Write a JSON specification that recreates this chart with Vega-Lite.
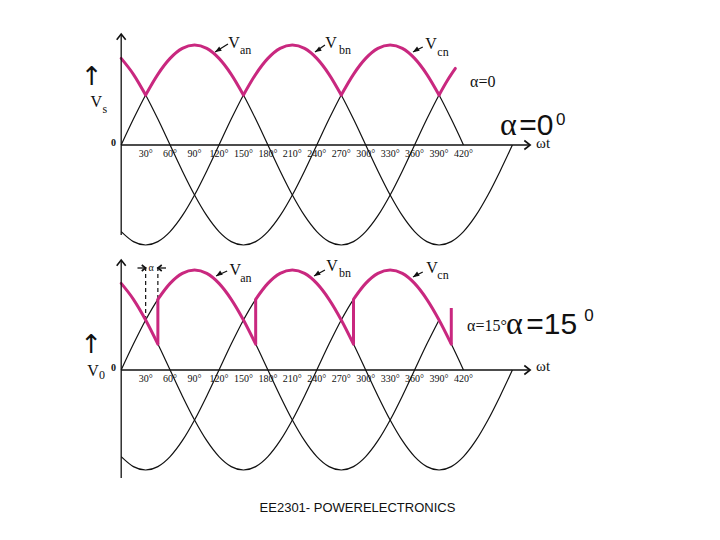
{
  "$schema": "https://vega.github.io/schema/vega-lite/v6.json",
  "background": "white",
  "padding": 0,
  "spacing": 0,
  "config": {"view": {"stroke": null}, "concat": {"spacing": 0}},
  "datasets": {
    "black": [
      {"phase":"a","deg":0,"v":0},{"phase":"a","deg":15,"v":0.259},{"phase":"a","deg":30,"v":0.5},{"phase":"a","deg":45,"v":0.707},{"phase":"a","deg":60,"v":0.866},{"phase":"a","deg":75,"v":0.966},{"phase":"a","deg":90,"v":1},{"phase":"a","deg":105,"v":0.966},{"phase":"a","deg":120,"v":0.866},{"phase":"a","deg":135,"v":0.707},{"phase":"a","deg":150,"v":0.5},{"phase":"a","deg":165,"v":0.259},{"phase":"a","deg":180,"v":0},{"phase":"a","deg":195,"v":-0.259},{"phase":"a","deg":210,"v":-0.5},{"phase":"a","deg":225,"v":-0.707},{"phase":"a","deg":240,"v":-0.866},{"phase":"a","deg":255,"v":-0.966},{"phase":"a","deg":270,"v":-1},{"phase":"a","deg":285,"v":-0.966},{"phase":"a","deg":300,"v":-0.866},{"phase":"a","deg":315,"v":-0.707},{"phase":"a","deg":330,"v":-0.5},{"phase":"a","deg":345,"v":-0.259},{"phase":"a","deg":360,"v":0},{"phase":"a","deg":375,"v":0.259},{"phase":"a","deg":390,"v":0.5},{"phase":"a","deg":405,"v":0.707},
      {"phase":"b","deg":0,"v":-0.866},{"phase":"b","deg":15,"v":-0.966},{"phase":"b","deg":30,"v":-1},{"phase":"b","deg":45,"v":-0.966},{"phase":"b","deg":60,"v":-0.866},{"phase":"b","deg":75,"v":-0.707},{"phase":"b","deg":90,"v":-0.5},{"phase":"b","deg":105,"v":-0.259},{"phase":"b","deg":120,"v":0},{"phase":"b","deg":135,"v":0.259},{"phase":"b","deg":150,"v":0.5},{"phase":"b","deg":165,"v":0.707},{"phase":"b","deg":180,"v":0.866},{"phase":"b","deg":195,"v":0.966},{"phase":"b","deg":210,"v":1},{"phase":"b","deg":225,"v":0.966},{"phase":"b","deg":240,"v":0.866},{"phase":"b","deg":255,"v":0.707},{"phase":"b","deg":270,"v":0.5},{"phase":"b","deg":285,"v":0.259},{"phase":"b","deg":300,"v":0},{"phase":"b","deg":315,"v":-0.259},{"phase":"b","deg":330,"v":-0.5},{"phase":"b","deg":345,"v":-0.707},{"phase":"b","deg":360,"v":-0.866},{"phase":"b","deg":375,"v":-0.966},{"phase":"b","deg":390,"v":-1},{"phase":"b","deg":405,"v":-0.966},{"phase":"b","deg":420,"v":-0.866},{"phase":"b","deg":435,"v":-0.707},{"phase":"b","deg":450,"v":-0.5},{"phase":"b","deg":465,"v":-0.259},{"phase":"b","deg":480,"v":0},
      {"phase":"c","deg":0,"v":0.866},{"phase":"c","deg":15,"v":0.707},{"phase":"c","deg":30,"v":0.5},{"phase":"c","deg":45,"v":0.259},{"phase":"c","deg":60,"v":0},{"phase":"c","deg":75,"v":-0.259},{"phase":"c","deg":90,"v":-0.5},{"phase":"c","deg":105,"v":-0.707},{"phase":"c","deg":120,"v":-0.866},{"phase":"c","deg":135,"v":-0.966},{"phase":"c","deg":150,"v":-1},{"phase":"c","deg":165,"v":-0.966},{"phase":"c","deg":180,"v":-0.866},{"phase":"c","deg":195,"v":-0.707},{"phase":"c","deg":210,"v":-0.5},{"phase":"c","deg":225,"v":-0.259},{"phase":"c","deg":240,"v":0},{"phase":"c","deg":255,"v":0.259},{"phase":"c","deg":270,"v":0.5},{"phase":"c","deg":285,"v":0.707},{"phase":"c","deg":300,"v":0.866},{"phase":"c","deg":315,"v":0.966},{"phase":"c","deg":330,"v":1},{"phase":"c","deg":345,"v":0.966},{"phase":"c","deg":360,"v":0.866},{"phase":"c","deg":375,"v":0.707},{"phase":"c","deg":390,"v":0.5},{"phase":"c","deg":405,"v":0.259},{"phase":"c","deg":420,"v":0}
    ],
    "mag": [
      {"panel":"top","seg":"t1","deg":0,"v":0.866},{"panel":"top","seg":"t1","deg":15,"v":0.707},{"panel":"top","seg":"t1","deg":30,"v":0.5},
      {"panel":"top","seg":"t2","deg":30,"v":0.5},{"panel":"top","seg":"t2","deg":45,"v":0.707},{"panel":"top","seg":"t2","deg":60,"v":0.866},{"panel":"top","seg":"t2","deg":75,"v":0.966},{"panel":"top","seg":"t2","deg":90,"v":1},{"panel":"top","seg":"t2","deg":105,"v":0.966},{"panel":"top","seg":"t2","deg":120,"v":0.866},{"panel":"top","seg":"t2","deg":135,"v":0.707},{"panel":"top","seg":"t2","deg":150,"v":0.5},
      {"panel":"top","seg":"t3","deg":150,"v":0.5},{"panel":"top","seg":"t3","deg":165,"v":0.707},{"panel":"top","seg":"t3","deg":180,"v":0.866},{"panel":"top","seg":"t3","deg":195,"v":0.966},{"panel":"top","seg":"t3","deg":210,"v":1},{"panel":"top","seg":"t3","deg":225,"v":0.966},{"panel":"top","seg":"t3","deg":240,"v":0.866},{"panel":"top","seg":"t3","deg":255,"v":0.707},{"panel":"top","seg":"t3","deg":270,"v":0.5},
      {"panel":"top","seg":"t4","deg":270,"v":0.5},{"panel":"top","seg":"t4","deg":285,"v":0.707},{"panel":"top","seg":"t4","deg":300,"v":0.866},{"panel":"top","seg":"t4","deg":315,"v":0.966},{"panel":"top","seg":"t4","deg":330,"v":1},{"panel":"top","seg":"t4","deg":345,"v":0.966},{"panel":"top","seg":"t4","deg":360,"v":0.866},{"panel":"top","seg":"t4","deg":375,"v":0.707},{"panel":"top","seg":"t4","deg":390,"v":0.5},
      {"panel":"top","seg":"t5","deg":390,"v":0.5},{"panel":"top","seg":"t5","deg":400,"v":0.643},{"panel":"top","seg":"t5","deg":410,"v":0.766},
      {"panel":"bot","seg":"b1","deg":0,"v":0.866},{"panel":"bot","seg":"b1","deg":15,"v":0.707},{"panel":"bot","seg":"b1","deg":30,"v":0.5},{"panel":"bot","seg":"b1","deg":45,"v":0.259},
      {"panel":"bot","seg":"b2","deg":45,"v":0.707},{"panel":"bot","seg":"b2","deg":60,"v":0.866},{"panel":"bot","seg":"b2","deg":75,"v":0.966},{"panel":"bot","seg":"b2","deg":90,"v":1},{"panel":"bot","seg":"b2","deg":105,"v":0.966},{"panel":"bot","seg":"b2","deg":120,"v":0.866},{"panel":"bot","seg":"b2","deg":135,"v":0.707},{"panel":"bot","seg":"b2","deg":150,"v":0.5},{"panel":"bot","seg":"b2","deg":165,"v":0.259},
      {"panel":"bot","seg":"b3","deg":165,"v":0.707},{"panel":"bot","seg":"b3","deg":180,"v":0.866},{"panel":"bot","seg":"b3","deg":195,"v":0.966},{"panel":"bot","seg":"b3","deg":210,"v":1},{"panel":"bot","seg":"b3","deg":225,"v":0.966},{"panel":"bot","seg":"b3","deg":240,"v":0.866},{"panel":"bot","seg":"b3","deg":255,"v":0.707},{"panel":"bot","seg":"b3","deg":270,"v":0.5},{"panel":"bot","seg":"b3","deg":285,"v":0.259},
      {"panel":"bot","seg":"b4","deg":285,"v":0.707},{"panel":"bot","seg":"b4","deg":300,"v":0.866},{"panel":"bot","seg":"b4","deg":315,"v":0.966},{"panel":"bot","seg":"b4","deg":330,"v":1},{"panel":"bot","seg":"b4","deg":345,"v":0.966},{"panel":"bot","seg":"b4","deg":360,"v":0.866},{"panel":"bot","seg":"b4","deg":375,"v":0.707},{"panel":"bot","seg":"b4","deg":390,"v":0.5},{"panel":"bot","seg":"b4","deg":405,"v":0.259}
    ],
    "jumps": [
      {"deg":45,"v":0.259,"v2":0.707},{"deg":165,"v":0.259,"v2":0.707},{"deg":285,"v":0.259,"v2":0.707},{"deg":405,"v":0.259,"v2":0.62}
    ],
    "dashes": [
      {"deg":30,"v":1.03,"v2":0.52},{"deg":45,"v":1.03,"v2":0.72}
    ],
    "segs": [
      {"panel":"top","deg":0,"v":0,"deg2":501,"v2":0},
      {"panel":"top","deg":0,"v":1.11,"deg2":0,"v2":-0.9},
      {"panel":"top","deg":131,"v":1.01,"deg2":115.2,"v2":0.93},
      {"panel":"top","deg":250,"v":1.0,"deg2":237.8,"v2":0.93},
      {"panel":"top","deg":370,"v":0.98,"deg2":358,"v2":0.93},
      {"panel":"bot","deg":0,"v":0,"deg2":501,"v2":0},
      {"panel":"bot","deg":0,"v":1.10,"deg2":0,"v2":-1.08},
      {"panel":"bot","deg":130,"v":0.99,"deg2":116.4,"v2":0.94},
      {"panel":"bot","deg":250,"v":1.0,"deg2":236.6,"v2":0.94},
      {"panel":"bot","deg":370,"v":0.98,"deg2":358,"v2":0.93},
      {"panel":"bot","deg":20,"v":1.02,"deg2":30,"v2":1.02},
      {"panel":"bot","deg":45,"v":1.02,"deg2":55,"v2":1.02}
    ],
    "chev": [
      {"panel":"top","dir":"up","deg":0,"v":1.11},
      {"panel":"top","dir":"right","deg":501.8,"v":0},
      {"panel":"bot","dir":"up","deg":0,"v":1.10},
      {"panel":"bot","dir":"right","deg":501.8,"v":0}
    ],
    "smallchev": [
      {"dir":"right","deg":30,"v":1.02},
      {"dir":"left","deg":45,"v":1.02}
    ],
    "ptr": [
      {"panel":"top","deg":115.2,"v":0.93},{"panel":"top","deg":237.8,"v":0.93},{"panel":"top","deg":358,"v":0.93},
      {"panel":"bot","deg":116.4,"v":0.94},{"panel":"bot","deg":236.6,"v":0.94},{"panel":"bot","deg":358,"v":0.93}
    ],
    "ticks": [
      {"deg":30,"v":-0.09,"label":"30°"},{"deg":60,"v":-0.09,"label":"60°"},{"deg":90,"v":-0.09,"label":"90°"},{"deg":120,"v":-0.09,"label":"120°"},{"deg":150,"v":-0.09,"label":"150°"},{"deg":180,"v":-0.09,"label":"180°"},{"deg":210,"v":-0.09,"label":"210°"},{"deg":240,"v":-0.09,"label":"240°"},{"deg":270,"v":-0.09,"label":"270°"},{"deg":300,"v":-0.09,"label":"300°"},{"deg":330,"v":-0.09,"label":"330°"},{"deg":360,"v":-0.09,"label":"360°"},{"deg":390,"v":-0.09,"label":"390°"},{"deg":420,"v":-0.09,"label":"420°"}
    ],
    "texts": [
      {"panel":"top","kind":"V","deg":138.5,"v":1.02,"label":"V"},
      {"panel":"top","kind":"V","deg":257.4,"v":1.02,"label":"V"},
      {"panel":"top","kind":"V","deg":380,"v":1.01,"label":"V"},
      {"panel":"top","kind":"V","deg":-30.5,"v":0.43,"label":"V"},
      {"panel":"top","kind":"sub","deg":152.7,"v":0.95,"label":"an"},
      {"panel":"top","kind":"sub","deg":274.6,"v":0.95,"label":"bn"},
      {"panel":"top","kind":"sub","deg":394.8,"v":0.93,"label":"cn"},
      {"panel":"top","kind":"sub","deg":-20,"v":0.36,"label":"s"},
      {"panel":"top","kind":"zero","deg":-9.4,"v":0.025,"label":"0"},
      {"panel":"top","kind":"arrow","deg":-36.4,"v":0.68,"label":"↑"},
      {"panel":"top","kind":"alpha","deg":428,"v":0.58,"label":"α=0"},
      {"panel":"top","kind":"wt","deg":517.6,"v":0.02,"label":"ωt"},
      {"panel":"top","kind":"bigA","deg":464.8,"v":0.10,"label":"α"},
      {"panel":"top","kind":"bigEq","deg":488.5,"v":0.10,"label":"=0"},
      {"panel":"top","kind":"sup","deg":533.5,"v":0.20,"label":"0"},
      {"panel":"bot","kind":"V","deg":140,"v":1.0,"label":"V"},
      {"panel":"bot","kind":"V","deg":258.7,"v":1.04,"label":"V"},
      {"panel":"bot","kind":"V","deg":381.3,"v":1.02,"label":"V"},
      {"panel":"bot","kind":"V","deg":-34.5,"v":-0.005,"label":"V"},
      {"panel":"bot","kind":"sub","deg":153,"v":0.92,"label":"an"},
      {"panel":"bot","kind":"sub","deg":274.6,"v":0.97,"label":"bn"},
      {"panel":"bot","kind":"sub","deg":394.8,"v":0.95,"label":"cn"},
      {"panel":"bot","kind":"sub","deg":-23.6,"v":-0.05,"label":"0"},
      {"panel":"bot","kind":"zero","deg":-9.4,"v":0.02,"label":"0"},
      {"panel":"bot","kind":"arrow","deg":-37,"v":0.25,"label":"↑"},
      {"panel":"bot","kind":"alpha","deg":424.3,"v":0.39,"label":"α=15°"},
      {"panel":"bot","kind":"wt","deg":517.6,"v":0.04,"label":"ωt"},
      {"panel":"bot","kind":"tiny","deg":36.6,"v":1.02,"label":"α"},
      {"panel":"bot","kind":"bigA","deg":472.1,"v":0.36,"label":"α"},
      {"panel":"bot","kind":"bigEq","deg":497,"v":0.36,"label":"=15"},
      {"panel":"bot","kind":"sup","deg":568,"v":0.49,"label":"0"},
      {"panel":"bot","kind":"footer","deg":289.9,"v":-1.38,"label":"EE2301- POWERELECTRONICS"}
    ]
  },
  "vconcat": [
    {
      "width": 720,
      "height": 256,
      "encoding": {
        "x": {"field": "deg", "type": "quantitative", "scale": {"domain": [-148.7, 734.7], "nice": false, "zero": false}, "axis": null},
        "y": {"field": "v", "type": "quantitative", "scale": {"domain": [-1.11, 1.45], "nice": false, "zero": false}, "axis": null}
      },
      "layer": [
        {"data": {"name": "black"}, "mark": {"type": "line", "interpolate": "monotone", "color": "#111", "strokeWidth": 1.2}, "encoding": {"detail": {"field": "phase"}}},
        {"data": {"name": "mag"}, "transform": [{"filter": "datum.panel === 'top'"}], "mark": {"type": "line", "interpolate": "monotone", "color": "#c9287f", "strokeWidth": 3, "strokeCap": "round"}, "encoding": {"detail": {"field": "seg"}}},
        {"data": {"name": "segs"}, "transform": [{"filter": "datum.panel === 'top'"}], "mark": {"type": "rule", "color": "#111", "strokeWidth": 1.3}, "encoding": {"x2": {"field": "deg2"}, "y2": {"field": "v2"}}},
        {"data": {"name": "chev"}, "transform": [{"filter": "datum.panel === 'top'"}], "mark": {"type": "point", "filled": false, "color": "#111", "strokeWidth": 1.6, "size": 81, "opacity": 1}, "encoding": {"shape": {"field": "dir", "type": "nominal", "legend": null, "scale": {"domain": ["up", "right", "left"], "range": ["M-1,1.3L0,0L1,1.3", "M-1.3,-1L0,0L-1.3,1", "M1.3,-1L0,0L1.3,1"]}}}},
        {"data": {"name": "ptr"}, "transform": [{"filter": "datum.panel === 'top'"}], "mark": {"type": "point", "filled": true, "color": "#111", "shape": "M0,0L-0.7,1.8L0.7,1.8Z", "angle": 238, "size": 50, "opacity": 1}},
        {"data": {"name": "ticks"}, "mark": {"type": "text", "font": "Liberation Serif", "fontSize": 10, "align": "center", "baseline": "middle", "color": "#111"}, "encoding": {"text": {"field": "label"}}},
        {"data": {"name": "texts"}, "transform": [{"filter": "datum.panel === 'top' && indexof(['V','sub','wt','tiny'], datum.kind) >= 0"}], "mark": {"type": "text", "font": "Liberation Serif", "align": "center", "baseline": "middle", "color": "#111"}, "encoding": {"text": {"field": "label"}, "size": {"condition": [{"test": "datum.kind === 'V'", "value": 16}, {"test": "datum.kind === 'sub'", "value": 12}, {"test": "datum.kind === 'wt'", "value": 15}], "value": 10}}},
        {"data": {"name": "texts"}, "transform": [{"filter": "datum.panel === 'top' && datum.kind === 'zero'"}], "mark": {"type": "text", "font": "Liberation Serif", "fontWeight": "bold", "fontSize": 10, "align": "center", "baseline": "middle", "color": "#111"}, "encoding": {"text": {"field": "label"}}},
        {"data": {"name": "texts"}, "transform": [{"filter": "datum.panel === 'top' && (datum.kind === 'alpha' || datum.kind === 'bigA')"}], "mark": {"type": "text", "font": "Liberation Serif", "align": "left", "baseline": "alphabetic", "color": "#111"}, "encoding": {"text": {"field": "label"}, "size": {"condition": {"test": "datum.kind === 'bigA'", "value": 32}, "value": 16}}},
        {"data": {"name": "texts"}, "transform": [{"filter": "datum.panel === 'top' && (datum.kind === 'bigEq' || datum.kind === 'sup')"}], "mark": {"type": "text", "font": "Liberation Sans", "align": "left", "baseline": "alphabetic", "color": "#111"}, "encoding": {"text": {"field": "label"}, "size": {"condition": {"test": "datum.kind === 'bigEq'", "value": 30}, "value": 17}}},
        {"data": {"name": "texts"}, "transform": [{"filter": "datum.panel === 'top' && datum.kind === 'arrow'"}], "mark": {"type": "text", "font": "DejaVu Sans", "fontSize": 26, "align": "center", "baseline": "middle", "color": "#111"}, "encoding": {"text": {"field": "label"}}}
      ]
    },
    {
      "width": 720,
      "height": 284,
      "encoding": {
        "x": {"field": "deg", "type": "quantitative", "scale": {"domain": [-148.7, 734.7], "nice": false, "zero": false}, "axis": null},
        "y": {"field": "v", "type": "quantitative", "scale": {"domain": [-1.73, 1.11], "nice": false, "zero": false}, "axis": null}
      },
      "layer": [
        {"data": {"name": "black"}, "transform": [{"filter": "!(datum.phase === 'a' && datum.deg > 390)"}], "mark": {"type": "line", "interpolate": "monotone", "color": "#111", "strokeWidth": 1.2}, "encoding": {"detail": {"field": "phase"}}},
        {"data": {"name": "dashes"}, "mark": {"type": "rule", "color": "#111", "strokeWidth": 1.2, "strokeDash": [4, 3]}, "encoding": {"y2": {"field": "v2"}}},
        {"data": {"name": "mag"}, "transform": [{"filter": "datum.panel === 'bot'"}], "mark": {"type": "line", "interpolate": "monotone", "color": "#c9287f", "strokeWidth": 3, "strokeCap": "round"}, "encoding": {"detail": {"field": "seg"}}},
        {"data": {"name": "jumps"}, "mark": {"type": "rule", "color": "#c9287f", "strokeWidth": 3}, "encoding": {"y2": {"field": "v2"}}},
        {"data": {"name": "segs"}, "transform": [{"filter": "datum.panel === 'bot'"}], "mark": {"type": "rule", "color": "#111", "strokeWidth": 1.3}, "encoding": {"x2": {"field": "deg2"}, "y2": {"field": "v2"}}},
        {"data": {"name": "chev"}, "transform": [{"filter": "datum.panel === 'bot'"}], "mark": {"type": "point", "filled": false, "color": "#111", "strokeWidth": 1.6, "size": 81, "opacity": 1}, "encoding": {"shape": {"field": "dir", "type": "nominal", "legend": null, "scale": {"domain": ["up", "right", "left"], "range": ["M-1,1.3L0,0L1,1.3", "M-1.3,-1L0,0L-1.3,1", "M1.3,-1L0,0L1.3,1"]}}}},
        {"data": {"name": "smallchev"}, "mark": {"type": "point", "filled": false, "color": "#111", "strokeWidth": 1.6, "size": 36, "opacity": 1}, "encoding": {"shape": {"field": "dir", "type": "nominal", "legend": null, "scale": {"domain": ["up", "right", "left"], "range": ["M-1,1.3L0,0L1,1.3", "M-1.3,-1L0,0L-1.3,1", "M1.3,-1L0,0L1.3,1"]}}}},
        {"data": {"name": "ptr"}, "transform": [{"filter": "datum.panel === 'bot'"}], "mark": {"type": "point", "filled": true, "color": "#111", "shape": "M0,0L-0.7,1.8L0.7,1.8Z", "angle": 238, "size": 50, "opacity": 1}},
        {"data": {"name": "ticks"}, "mark": {"type": "text", "font": "Liberation Serif", "fontSize": 10, "align": "center", "baseline": "middle", "color": "#111"}, "encoding": {"text": {"field": "label"}}},
        {"data": {"name": "texts"}, "transform": [{"filter": "datum.panel === 'bot' && indexof(['V','sub','wt','tiny'], datum.kind) >= 0"}], "mark": {"type": "text", "font": "Liberation Serif", "align": "center", "baseline": "middle", "color": "#111"}, "encoding": {"text": {"field": "label"}, "size": {"condition": [{"test": "datum.kind === 'V'", "value": 16}, {"test": "datum.kind === 'sub'", "value": 12}, {"test": "datum.kind === 'wt'", "value": 15}], "value": 10}}},
        {"data": {"name": "texts"}, "transform": [{"filter": "datum.panel === 'bot' && datum.kind === 'zero'"}], "mark": {"type": "text", "font": "Liberation Serif", "fontWeight": "bold", "fontSize": 10, "align": "center", "baseline": "middle", "color": "#111"}, "encoding": {"text": {"field": "label"}}},
        {"data": {"name": "texts"}, "transform": [{"filter": "datum.panel === 'bot' && (datum.kind === 'alpha' || datum.kind === 'bigA')"}], "mark": {"type": "text", "font": "Liberation Serif", "align": "left", "baseline": "alphabetic", "color": "#111"}, "encoding": {"text": {"field": "label"}, "size": {"condition": {"test": "datum.kind === 'bigA'", "value": 32}, "value": 16}}},
        {"data": {"name": "texts"}, "transform": [{"filter": "datum.panel === 'bot' && (datum.kind === 'bigEq' || datum.kind === 'sup')"}], "mark": {"type": "text", "font": "Liberation Sans", "align": "left", "baseline": "alphabetic", "color": "#111"}, "encoding": {"text": {"field": "label"}, "size": {"condition": {"test": "datum.kind === 'bigEq'", "value": 30}, "value": 17}}},
        {"data": {"name": "texts"}, "transform": [{"filter": "datum.panel === 'bot' && datum.kind === 'arrow'"}], "mark": {"type": "text", "font": "DejaVu Sans", "fontSize": 26, "align": "center", "baseline": "middle", "color": "#111"}, "encoding": {"text": {"field": "label"}}},
        {"data": {"name": "texts"}, "transform": [{"filter": "datum.panel === 'bot' && datum.kind === 'footer'"}], "mark": {"type": "text", "font": "Liberation Sans", "fontSize": 13, "align": "center", "baseline": "middle", "color": "#111"}, "encoding": {"text": {"field": "label"}}}
      ]
    }
  ]
}
